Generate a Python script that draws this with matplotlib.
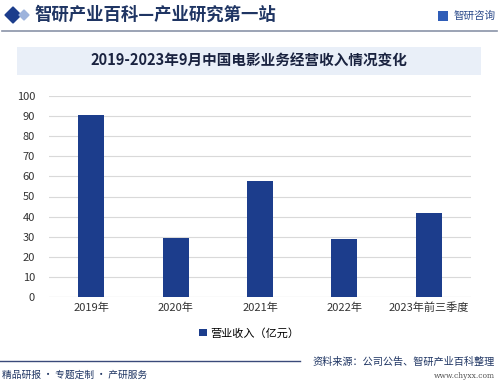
import matplotlib
matplotlib.use("Agg")
import matplotlib.pyplot as plt
from matplotlib.patches import Rectangle, Polygon

plt.rcParams['font.family'] = ['Noto Sans CJK SC', 'DejaVu Sans']

categories = ["2019年", "2020年", "2021年", "2022年", "2023年前三季度"]
revenue = [90.6, 29.3, 57.9, 28.7, 41.9]
yticks = list(range(0, 101, 10))

bar_color = "#1c3d8c"
navy = "#1f3563"

W, H = 499, 383
fig = plt.figure(figsize=(W / 100, H / 100), dpi=100)
fig.patch.set_facecolor("white")

def fx(px):
    return px / W

def fy(py):
    return 1 - py / H

# header
fig.patches.append(Polygon([[fx(5), fy(15)], [fx(13), fy(7)], [fx(21), fy(15)], [fx(13), fy(23)]],
                           closed=True, transform=fig.transFigure, color="#1c3d8c"))
fig.patches.append(Polygon([[fx(19), fy(15)], [fx(24), fy(10)], [fx(29), fy(15)], [fx(24), fy(20)]],
                           closed=True, transform=fig.transFigure, color="#9db3dc"))
fig.text(fx(34), fy(15), "智研产业百科—产业研究第一站", fontsize=12.5, fontweight="bold",
         color=navy, va="center", ha="left")
fig.text(fx(496), fy(16), "智研咨询", fontsize=7.6, color="#2b4a8a", va="center", ha="right")
fig.patches.append(Rectangle((fx(438), fy(21)), fx(10), 10 / H, transform=fig.transFigure,
                             facecolor="#2f5db8", edgecolor="none"))
fig.lines.append(plt.Line2D([fx(2), fx(497)], [fy(31), fy(31)], transform=fig.transFigure,
                            color="#8a93a8", lw=1.2))

# title box
fig.patches.append(Rectangle((fx(17), fy(75)), fx(481 - 17), 28 / H, transform=fig.transFigure,
                             facecolor="#e9eff8", edgecolor="none"))
fig.text(fx(249), fy(61), "2019-2023年9月中国电影业务经营收入情况变化", fontsize=10.5,
         fontweight="bold", color="#1a2340", ha="center", va="center")

# chart
ax = fig.add_axes([fx(49), fy(297), fx(471 - 49), (297 - 96) / H])
x = range(len(categories))
ax.bar(x, revenue, width=0.31, color=bar_color, zorder=3, label="营业收入（亿元）")
ax.set_xlim(-0.5, len(categories) - 0.5)
ax.set_ylim(0, 100)
ax.set_yticks(yticks)
ax.set_xticks(list(x))
ax.set_xticklabels(categories)
ax.tick_params(axis="both", length=0, labelsize=8, colors="#333333")
ax.tick_params(axis="y", pad=10)
ax.tick_params(axis="x", pad=4)
ax.grid(axis="y", color="#d9d9d9", lw=0.8, zorder=0)
for s in ax.spines.values():
    s.set_visible(False)
ax.axhline(0, color="#d0d0d0", lw=0.8, zorder=1)

leg = fig.legend(loc="center", bbox_to_anchor=(fx(249), fy(333)), frameon=False, fontsize=8,
                 handlelength=0.7, handleheight=0.7, handletextpad=0.3)

# footer
fig.lines.append(plt.Line2D([fx(0), fx(300)], [fy(361), fy(361)], transform=fig.transFigure,
                            color="#3a4a7a", lw=1.0))
fig.text(fx(495), fy(362), "资料来源：公司公告、智研产业百科整理", fontsize=7.3, color="#1f3563",
         ha="right", va="center")
fig.text(fx(495), fy(376), "www.chyxx.com", fontsize=5.5, color="#555555", ha="right", va="center",
         family="DejaVu Serif")
fig.text(fx(2), fy(375), "精品研报 · 专题定制 · 产研服务", fontsize=7, color="#1f3563",
         ha="left", va="center")

fig.savefig("out.png", dpi=100)
